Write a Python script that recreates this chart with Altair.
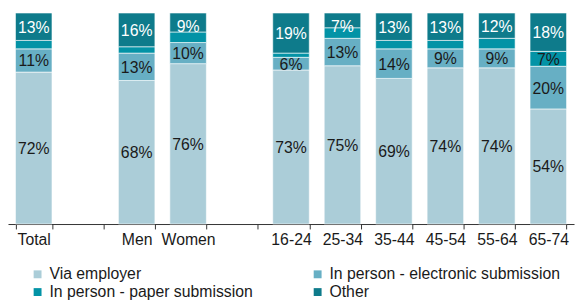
import altair as alt
import pandas as pd

categories = ["Total", " ", "Men", "Women", "  ", "16-24", "25-34", "35-44", "45-54", "55-64", "65-74"]
bar_groups = ["Total", "Men", "Women", "16-24", "25-34", "35-44", "45-54", "55-64", "65-74"]
series = ["Via employer", "In person - electronic submission", "In person - paper submission", "Other"]
via_employer = [72, 68, 76, 73, 75, 69, 74, 74, 54]
electronic = [11, 13, 10, 6, 13, 14, 9, 9, 20]
paper = [4, 3, 5, 2, 5, 4, 4, 5, 7]
other = [13, 16, 9, 19, 7, 13, 13, 12, 18]
colors = {"Via employer": "#abcdd8", "In person - electronic submission": "#67afc4",
          "In person - paper submission": "#0393a6", "Other": "#0e7b8b"}
# legend fills column by column, so list in that order to read row by row
legend_order = ["Via employer", "In person - paper submission",
                "In person - electronic submission", "Other"]

rows = []
for i, g in enumerate(bar_groups):
    for j, (s, vals) in enumerate(zip(series, [via_employer, electronic, paper, other])):
        v = vals[i]
        rows.append({"group": g, "series": s, "order": j, "value": v,
                     "label": f"{v}%" if v >= 6 else "",
                     "light": s == "Other"})
df = pd.DataFrame(rows)

base = alt.Chart(df).transform_stack(
    stack="value", groupby=["group"], sort=[alt.SortField("order")],
    as_=["y0", "y1"], offset="normalize"
).transform_calculate(mid="min((datum.y0 + datum.y1) / 2, 0.94)")

xenc = alt.X("group:N", scale=alt.Scale(domain=categories, paddingInner=0.29, paddingOuter=0.145),
             axis=alt.Axis(title=None, labelAngle=0, labelFontSize=16, labelColor="#1a1a1a",
                           labelFont="Liberation Sans", tickBand="extent", tickSize=5,
                           domainColor="#333", tickColor="#333", labelPadding=3))

bars = base.mark_bar(stroke="white", strokeWidth=0.6).encode(
    x=xenc,
    y=alt.Y("y0:Q", scale=alt.Scale(domain=[0, 1]), axis=None),
    y2="y1:Q",
    color=alt.Color("series:N",
                    scale=alt.Scale(domain=legend_order, range=[colors[s] for s in legend_order]),
                    legend=alt.Legend(title=None, orient="none", legendX=22, legendY=257,
                                      columns=2, columnPadding=57, rowPadding=2,
                                      symbolType="square", symbolSize=64, symbolStrokeWidth=0,
                                      labelFontSize=16, labelFont="Liberation Sans",
                                      labelColor="#1a1a1a", labelLimit=300)),
)

texts = base.mark_text(fontSize=16, font="Liberation Sans", dy=1).encode(
    x=alt.X("group:N", scale=alt.Scale(domain=categories)),
    y=alt.Y("mid:Q"),
    text="label:N",
    color=alt.condition("datum.light", alt.value("white"), alt.value("#1a1a1a")),
)

chart = alt.layer(bars, texts).properties(
    width=574, height=214,
    padding={"left": 0, "top": 2, "right": 2, "bottom": 0},
).configure_view(stroke=None)

chart.save("out.html", embed_options={"renderer": "svg", "actions": False})
